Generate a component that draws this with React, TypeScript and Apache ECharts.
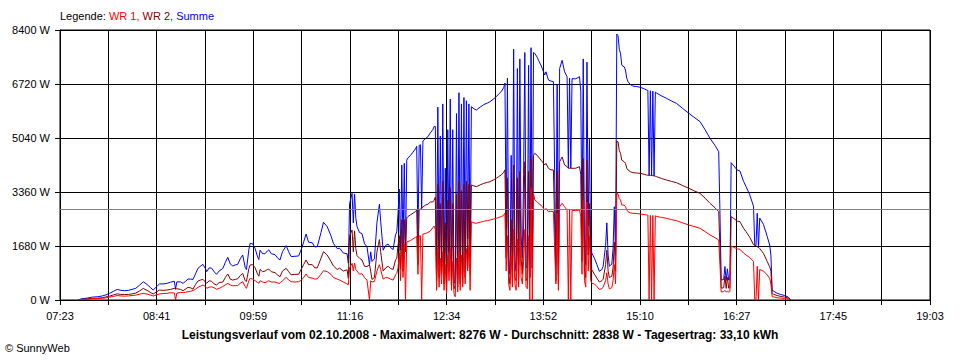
import React, { useEffect, useRef } from 'react';
import * as echarts from 'echarts';

// Axis tick labels (x axis: every second grid line is labelled)
const xTickLabels = ['07:23', '08:41', '09:59', '11:16', '12:34', '13:52', '15:10', '16:27', '17:45', '19:03'];
const yMax = 8400;
const yInterval = 1680;
const average = 2838;

// Sample times
const times = [
  '07:38','07:40','07:45','07:49','07:53','07:57','08:00','08:03','08:06','08:09',
  '08:12','08:15','08:18','08:21','08:24','08:27','08:30','08:33','08:36','08:38',
  '08:41','08:43','08:46','08:49','08:52','08:55','08:56','08:57','09:00','09:02',
  '09:04','09:06','09:08','09:10','09:12','09:14','09:16','09:18','09:20','09:21',
  '09:23','09:25','09:27','09:29','09:31','09:34','09:36','09:38','09:40','09:42',
  '09:44','09:46','09:48','09:50','09:52','09:53','09:55','09:56','09:58','10:00',
  '10:02','10:03','10:04','10:06','10:08','10:10','10:11','10:13','10:16','10:18',
  '10:20','10:22','10:25','10:27','10:29','10:32','10:35','10:37','10:39','10:41',
  '10:43','10:46','10:48','10:50','10:53','10:55','10:58','11:01','11:03','11:06',
  '11:08','11:11','11:14','11:15','11:16','11:18','11:19','11:20','11:21','11:22',
  '11:24','11:26','11:28','11:30','11:32','11:33','11:34','11:36','11:38','11:40',
  '11:41','11:43','11:45','11:47','11:49','11:51','11:53','11:54','11:55','11:56',
  '11:57','11:58','11:59','12:00','12:01','12:02','12:03','12:05','12:07','12:09',
  '12:10','12:11','12:12','12:13','12:14','12:15','12:17','12:19','12:21','12:23',
  '12:24','12:25','12:26','12:27','12:28','12:29','12:30','12:31','12:32','12:33',
  '12:34','12:35','12:36','12:37','12:38','12:39','12:40','12:41','12:42','12:43',
  '12:44','12:45','12:46','12:47','12:48','12:49','12:50','12:51','12:52','12:53',
  '12:54','12:56','12:58','13:01','13:04','13:07','13:09','13:12','13:14','13:16',
  '13:18','13:20','13:21','13:22','13:23','13:24','13:25','13:26','13:27','13:28',
  '13:29','13:30','13:31','13:32','13:33','13:34','13:35','13:36','13:37','13:38',
  '13:39','13:40','13:41','13:42','13:43','13:44','13:45','13:47','13:48','13:50',
  '13:51','13:53','13:54','13:56','13:58','14:00','14:02','14:03','14:04','14:05',
  '14:07','14:09','14:11','14:12','14:13','14:14','14:15','14:18','14:21','14:22',
  '14:23','14:24','14:25','14:26','14:27','14:28','14:29','14:30','14:31','14:33',
  '14:35','14:37','14:39','14:40','14:42','14:43','14:44','14:45','14:46','14:47',
  '14:48','14:49','14:50','14:51','14:52','14:53','14:54','14:55','14:57','14:58',
  '14:59','15:00','15:02','15:04','15:07','15:10','15:13','15:15','15:16','15:17',
  '15:18','15:19','15:20','15:21','15:22','15:23','15:27','15:31','15:35','15:39',
  '15:44','15:49','15:53','15:58','16:02','16:06','16:10','16:13','16:14','16:15',
  '16:17','16:18','16:19','16:20','16:21','16:22','16:23','16:25','16:28','16:30',
  '16:33','16:35','16:38','16:41','16:42','16:43','16:44','16:45','16:46','16:49',
  '16:52','16:54','16:55','16:56','16:57','17:00','17:03','17:06','17:09','17:11',
];

// WR 1 (W)
const wr1 = [
  0,15,25,40,45,55,65,90,110,140,
  125,120,125,140,150,180,207,185,150,124,
  165,190,200,207,225,220,0,215,235,228,
  240,259,270,300,330,394,430,467,420,363,
  400,410,380,332,360,420,470,519,470,440,
  450,450,520,570,420,363,600,674,650,600,
  540,520,600,560,540,580,600,560,560,530,
  519,600,705,620,570,560,570,610,700,809,
  700,680,650,660,800,913,880,800,700,650,
  620,560,500,470,1000,1141,900,1150,950,900,
  800,820,700,620,0,600,560,580,900,1100,
  950,650,700,690,650,620,780,830,1000,1450,
  600,1700,700,1750,0,1800,1820,1850,1900,1950,
  1980,800,1990,2000,0,2050,2070,2100,2150,2250,
  2300,2200,300,1600,400,1300,500,1500,300,1100,
  200,1400,600,1600,300,1200,200,100,1300,250,
  1500,300,1400,400,1500,500,1600,900,1700,300,
  2437,2400,2385,2420,2450,2470,2489,2520,2540,2570,
  2593,2640,2700,900,2000,500,300,1400,400,2200,
  500,300,1900,400,2100,700,500,1200,2200,400,
  350,2000,0,3500,0,3300,3111,3050,3007,2950,
  2904,2800,2850,2748,2760,2750,500,2700,300,2900,
  3007,2900,2800,0,2800,0,2790,2780,2800,2600,
  800,3100,600,400,3050,900,2000,600,519,500,
  420,330,350,400,600,850,500,350,360,380,
  600,1100,500,3330,3300,3150,3111,2955,2950,2900,
  2800,2748,2710,2696,2690,2676,2660,2644,2640,0,
  2630,0,2630,0,2620,2600,2570,2541,2500,2468,
  2400,2333,2290,2230,2130,2022,1940,1867,1100,250,
  260,300,250,270,250,260,1680,1640,1590,1580,
  1460,1400,1320,1200,0,0,1050,0,950,900,
  780,674,500,100,100,70,60,50,30,0,
];

// WR 2 (W)
const wr2 = [
  0,20,35,50,55,70,95,120,160,190,
  175,170,175,190,215,280,360,300,230,187,
  260,310,300,311,330,363,340,350,330,290,
  340,394,380,340,480,590,620,643,560,519,
  600,580,500,467,540,560,700,809,650,620,
  640,660,760,829,600,580,980,1089,1100,1000,
  800,740,950,880,900,950,960,880,850,780,
  726,900,985,880,780,800,800,950,1100,1244,
  1100,1100,1000,1000,1300,1504,1400,1200,1060,950,
  990,900,940,670,2000,2178,1500,2150,1600,1380,
  1300,1244,1050,1040,1100,900,640,700,1500,1880,
  1500,900,1000,1050,980,950,1250,1300,1700,2000,
  950,2500,900,2500,1500,2550,2600,2650,2700,2750,
  2800,1100,2820,2830,2850,2900,2950,2980,3050,3050,
  3100,3200,600,3600,700,3000,800,3700,500,2400,
  400,3100,900,3500,400,3000,350,450,3300,400,
  3700,500,3400,500,3600,700,3700,1000,3600,1000,
  3578,3550,3526,3580,3630,3660,3681,3740,3785,3840,
  3889,3970,4050,1300,3800,800,500,2500,700,4200,
  700,600,3800,700,4000,1300,800,2200,4300,600,
  700,4000,700,4400,1000,4500,4563,4500,4450,4350,
  4304,4200,4250,4096,4050,4044,600,4000,500,4300,
  4450,4200,4148,4100,4100,4100,4096,4100,4148,3900,
  1200,4400,900,700,4350,1400,3000,1000,933,800,
  680,560,600,650,1100,1550,900,700,720,740,
  1000,1800,900,4946,4920,4650,4563,4350,4300,4250,
  4100,4044,3990,3960,3950,3941,3910,3889,3880,3880,
  3880,3870,3870,3860,3850,3837,3780,3733,3690,3650,
  3560,3474,3400,3318,3170,3007,2870,2748,1600,370,
  380,740,360,700,370,380,2593,2540,2450,2440,
  2230,2126,1950,1720,1700,1690,1650,1640,1600,1452,
  1200,1037,900,200,180,140,110,90,60,0,
];

// Summe (W)
const summe = [
  0,35,60,90,100,125,160,210,270,330,
  300,290,300,330,365,460,567,485,380,311,
  425,500,500,518,555,583,340,565,565,518,
  580,653,650,640,810,984,1050,1110,980,882,
  1000,990,880,799,900,980,1170,1328,1120,1060,
  1090,1110,1280,1399,1020,943,1580,1763,1750,1600,
  1340,1260,1550,1440,1440,1530,1560,1440,1410,1310,
  1245,1500,1690,1500,1350,1360,1370,1560,1800,2053,
  1800,1780,1650,1660,2100,2417,2280,2000,1760,1600,
  1610,1460,1440,1140,3000,3319,2400,3300,2550,2280,
  2100,2064,1750,1660,1100,1500,1200,1280,2400,2980,
  2450,1550,1700,1740,1630,1570,2030,2130,2700,3450,
  1550,4200,1600,4250,1500,4350,4420,4500,4600,4700,
  4780,1900,4810,4830,2850,4950,5020,5080,5200,5300,
  5400,5400,900,6000,1100,5100,1300,6100,800,4100,
  600,5300,1500,6250,700,5300,550,550,5800,650,
  6450,800,6100,900,6300,1200,6200,1900,6100,1300,
  6015,5950,5911,6000,6080,6130,6170,6260,6325,6410,
  6482,6610,6750,2200,6900,1300,800,4500,1100,7800,
  1200,900,7200,1100,7500,2000,1300,3900,7700,1000,
  1050,7300,700,7850,1000,7700,7674,7550,7457,7300,
  7208,7000,7100,6844,6810,6794,1100,6700,800,7200,
  7457,7100,6948,4100,6900,4100,6886,6880,6948,6500,
  2000,7500,1500,1100,7400,2300,5000,1600,1452,1300,
  1100,890,950,1050,1700,2400,1400,1050,1080,1120,
  1600,2900,1400,8276,8220,7800,7674,7305,7250,7150,
  6900,6792,6700,6656,6640,6617,6570,6533,6520,3880,
  6510,3870,6500,3860,6470,6437,6350,6274,6190,6118,
  5960,5807,5690,5548,5300,5029,4810,4615,2700,620,
  640,1040,610,970,620,640,4273,4180,4040,4020,
  3690,3526,3270,2920,1700,1690,2700,1640,2550,2352,
  1980,1711,1400,300,280,210,170,140,90,0,
];

const toMin = (s: string) => {
  const [h, m] = s.split(':').map(Number);
  return h * 60 + m;
};
const axisStart = toMin(xTickLabels[0]);
const axisEnd = toMin(xTickLabels[xTickLabels.length - 1]);
const slots = (xTickLabels.length - 1) * 2; // grid lines incl. unlabelled ones
const toX = (s: string) => ((toMin(s) - axisStart) * slots) / (axisEnd - axisStart);

const FONT = '"Liberation Sans", Arial, sans-serif';

export default function App() {
  const ref = useRef<HTMLDivElement>(null);
  useEffect(() => {
    if (!ref.current) return;
    const chart = echarts.init(ref.current, undefined, { renderer: 'svg' });
    const mk = (vals: number[]) => times.map((t, i) => [toX(t), vals[i]]);
    chart.setOption({
      animation: false,
      backgroundColor: '#ffffff',
      textStyle: { fontFamily: FONT },
      grid: { left: 60, right: 30, top: 30, bottom: 60, show: true, borderColor: '#000', borderWidth: 1 },
      xAxis: {
        type: 'value',
        min: 0,
        max: slots,
        interval: 1,
        axisLine: { show: true, lineStyle: { color: '#000', width: 1 } },
        axisTick: { show: true, length: 5, lineStyle: { color: '#000', width: 1 } },
        splitLine: { show: true, lineStyle: { color: '#000', width: 1 } },
        axisLabel: {
          color: '#000',
          fontSize: 11,
          fontFamily: FONT,
          margin: 10,
          showMinLabel: true,
          showMaxLabel: true,
          formatter: (v: number) => {
            const r = Math.round(v);
            return r % 2 === 0 ? xTickLabels[r / 2] : '';
          },
        },
      },
      yAxis: {
        type: 'value',
        min: 0,
        max: yMax,
        interval: yInterval,
        axisLine: { show: true, lineStyle: { color: '#000', width: 1 } },
        axisTick: { show: true, length: 5, lineStyle: { color: '#000', width: 1 } },
        splitLine: { show: true, lineStyle: { color: '#000', width: 1 } },
        axisLabel: {
          color: '#000', fontSize: 11, fontFamily: FONT, margin: 10,
          formatter: (v: number) => `${Math.round(v)} W`,
        },
      },
      series: [
        {
          name: 'Summe', type: 'line', data: mk(summe), symbol: 'none', silent: true,
          lineStyle: { color: '#0000ff', width: 1 }, itemStyle: { color: '#0000ff' },
        },
        {
          name: 'WR 2', type: 'line', data: mk(wr2), symbol: 'none', silent: true,
          lineStyle: { color: '#800000', width: 1 }, itemStyle: { color: '#800000' },
        },
        {
          name: 'WR 1', type: 'line', data: mk(wr1), symbol: 'none', silent: true,
          lineStyle: { color: '#ff0000', width: 1 }, itemStyle: { color: '#ff0000' },
          markLine: {
            silent: true, symbol: 'none', label: { show: false },
            lineStyle: { color: '#808080', width: 1, type: 'solid' },
            data: [{ yAxis: average }],
          },
        },
      ],
      graphic: [
        {
          type: 'text', left: 60, top: 10,
          style: {
            text: '{k|Legende: }{a|WR 1,}{b| WR 2,}{c| Summe}',
            font: `11px ${FONT}`,
            rich: {
              k: { fill: '#000', fontSize: 11, fontFamily: FONT },
              a: { fill: '#ff0000', fontSize: 11, fontFamily: FONT },
              b: { fill: '#800000', fontSize: 11, fontFamily: FONT },
              c: { fill: '#0000ff', fontSize: 11, fontFamily: FONT },
            },
          },
        },
        {
          type: 'text', left: 'center', top: 329,
          style: {
            text: 'Leistungsverlauf vom 02.10.2008 - Maximalwert: 8276 W - Durchschnitt: 2838 W - Tagesertrag: 33,10 kWh',
            fill: '#000', fontSize: 12, fontWeight: 'bold', fontFamily: FONT,
          },
        },
        {
          type: 'text', left: 5, top: 342,
          style: { text: '\u00A9 SunnyWeb', fill: '#000', fontSize: 11, fontFamily: FONT },
        },
      ],
    });
    return () => chart.dispose();
  }, []);
  return (
    <div
      ref={ref}
      style={{ position: 'fixed', left: 0, top: 0, width: 960, height: 360, background: '#fff' }}
    />
  );
}
